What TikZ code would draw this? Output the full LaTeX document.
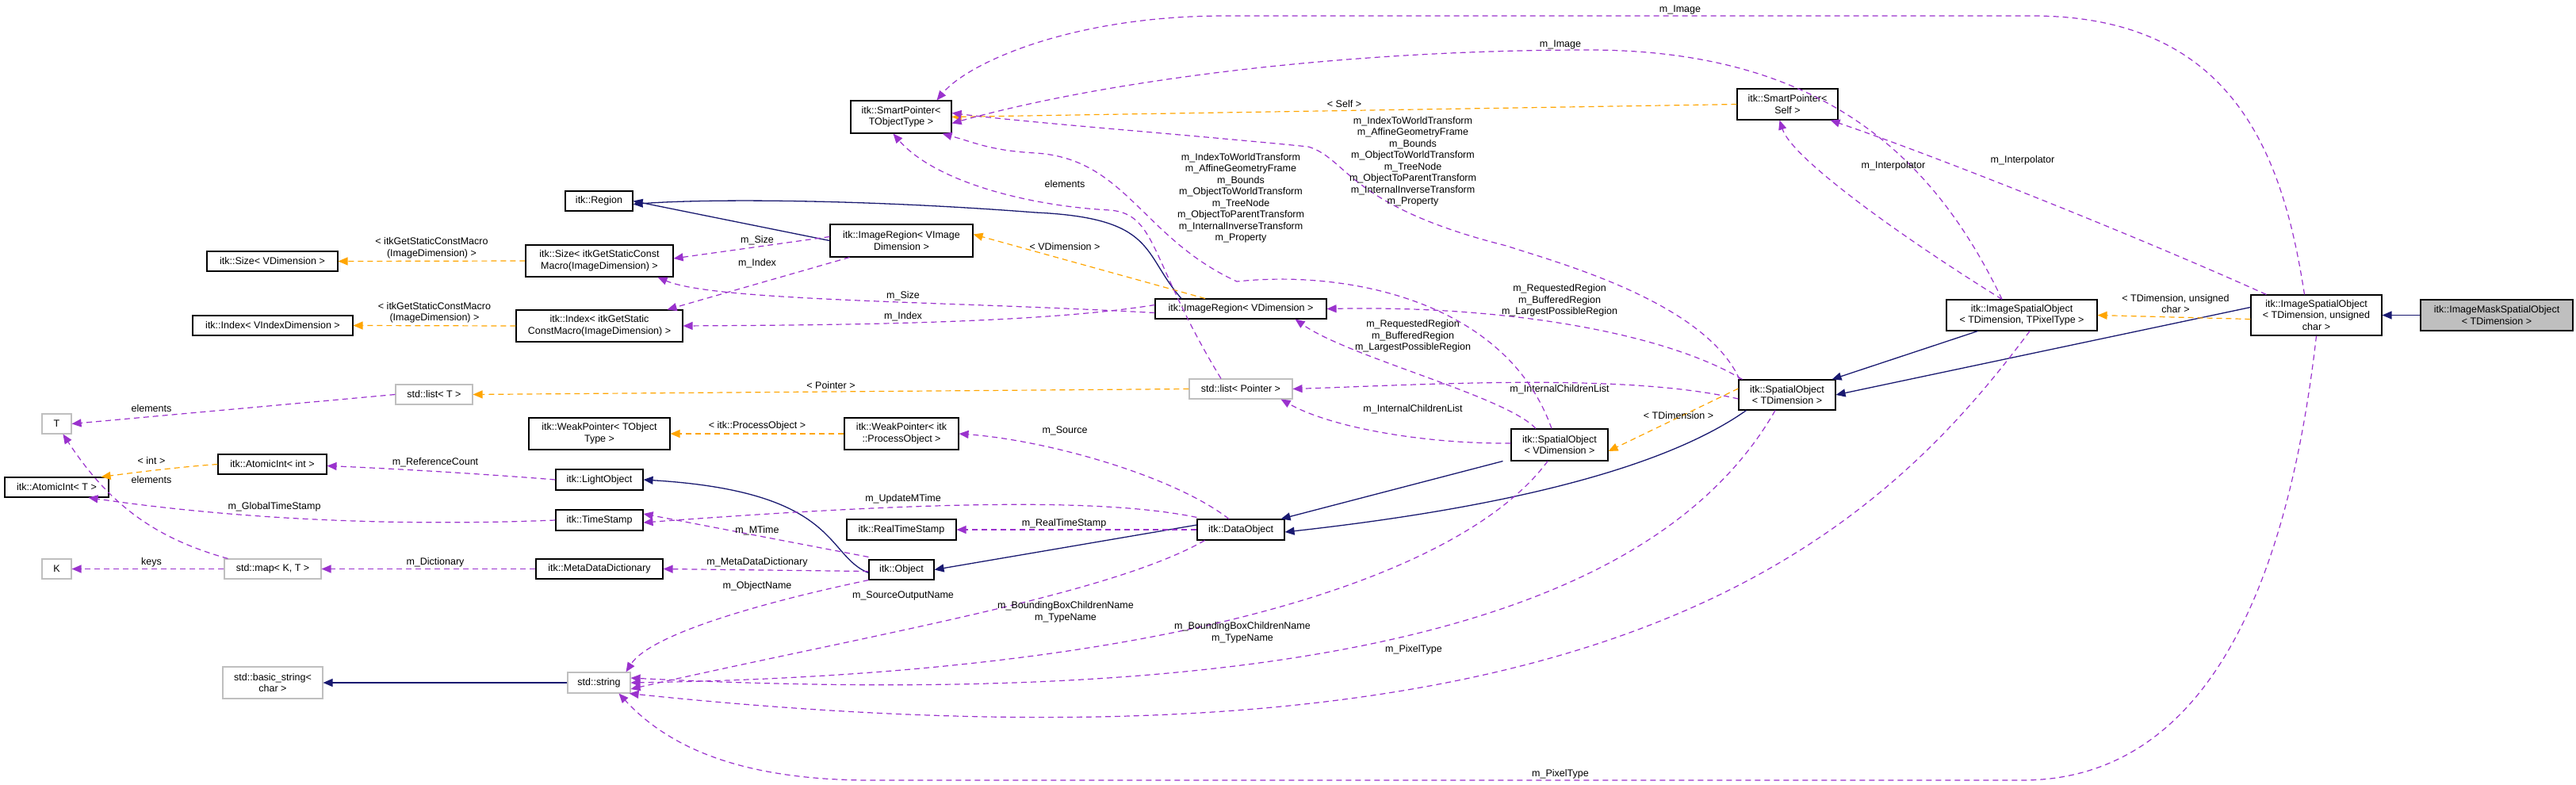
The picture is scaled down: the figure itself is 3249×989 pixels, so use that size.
\documentclass[tikz,border=0pt]{standalone}
\usepackage{fontspec}
\setmainfont{Liberation Sans}
\usetikzlibrary{arrows.meta}
\definecolor{inhc}{RGB}{25,25,112}
\definecolor{usec}{RGB}{154,50,205}
\definecolor{tplc}{RGB}{255,165,0}
\definecolor{grayb}{RGB}{191,191,191}
\tikzset{
 box/.style={draw=black,line width=1.1pt,fill=white,inner sep=2pt,align=center,font=\fontsize{12.5}{14.5}\selectfont},
 gbox/.style={box,draw=grayb},
 inh/.style={draw=inhc,line width=1.3pt,-{Triangle[length=12pt,width=10pt]}},
 use/.style={draw=usec,line width=1.2pt,dash pattern=on 7pt off 5pt,-{Triangle[length=12pt,width=10pt]}},
 tpl/.style={draw=tplc,line width=1.2pt,dash pattern=on 7pt off 5pt,-{Triangle[length=12pt,width=10pt]}},
 lab/.style={align=center,inner sep=0pt,font=\fontsize{12.5}{14.5}\selectfont}
}
\begin{document}
\begin{tikzpicture}[x=1pt,y=-1pt]
\useasboundingbox (0,0) rectangle (3249,989);
% nodes
\node[box,minimum width=85,minimum height=25] (region) at (755.5,253.5) {itk::Region};
\node[box,minimum width=186,minimum height=40] (sizeM) at (756,329) {itk::Size\textless{} itkGetStaticConst\\Macro(ImageDimension) \textgreater};
\node[box,minimum width=165,minimum height=25] (sizeV) at (343.5,329.5) {itk::Size\textless{} VDimension \textgreater};
\node[box,minimum width=210,minimum height=40] (indexM) at (756,411) {itk::Index\textless{} itkGetStatic\\ConstMacro(ImageDimension) \textgreater};
\node[box,minimum width=202,minimum height=25] (indexV) at (344,410.5) {itk::Index\textless{} VIndexDimension \textgreater};
\node[gbox,minimum width=97,minimum height=25] (listT) at (547.5,497.5) {std::list\textless{} T \textgreater};
\node[gbox,minimum width=37,minimum height=25] (T) at (71.5,534.5) {T};
\node[box,minimum width=178,minimum height=40] (weakT) at (756,547) {itk::WeakPointer\textless{} TObject\\Type \textgreater};
\node[box,minimum width=137,minimum height=25] (atomicI) at (343.5,585.5) {itk::AtomicInt\textless{} int \textgreater};
\node[box,minimum width=131,minimum height=25] (atomicT) at (71.5,614.5) {itk::AtomicInt\textless{} T \textgreater};
\node[box,minimum width=110,minimum height=26] (light) at (756,605) {itk::LightObject};
\node[box,minimum width=110,minimum height=26] (time) at (756,656) {itk::TimeStamp};
\node[gbox,minimum width=37,minimum height=25] (K) at (71.5,717.5) {K};
\node[gbox,minimum width=122,minimum height=25] (map) at (344,717.5) {std::map\textless{} K, T \textgreater};
\node[box,minimum width=160,minimum height=25] (meta) at (756,717.5) {itk::MetaDataDictionary};
\node[gbox,minimum width=126,minimum height=40] (basic) at (344,861) {std::basic\_string\textless\\char \textgreater};
\node[gbox,minimum width=79,minimum height=26] (string) at (755.5,861) {std::string};
\node[box,minimum width=127,minimum height=41] (spTO) at (1136.5,147.5) {itk::SmartPointer\textless\\TObjectType \textgreater};
\node[box,minimum width=180,minimum height=41] (imgRegVI) at (1137,303.5) {itk::ImageRegion\textless{} VImage\\Dimension \textgreater};
\node[box,minimum width=216,minimum height=25] (imgRegV) at (1565,389.5) {itk::ImageRegion\textless{} VDimension \textgreater};
\node[gbox,minimum width=130,minimum height=25] (listP) at (1565,490.5) {std::list\textless{} Pointer \textgreater};
\node[box,minimum width=144,minimum height=40] (weakP) at (1137,547) {itk::WeakPointer\textless{} itk\\::ProcessObject \textgreater};
\node[box,minimum width=138,minimum height=26] (realTS) at (1137,668) {itk::RealTimeStamp};
\node[box,minimum width=82,minimum height=25] (object) at (1137,718.5) {itk::Object};
\node[box,minimum width=110,minimum height=26] (dataObj) at (1565,668) {itk::DataObject};
\node[box,minimum width=122,minimum height=40] (soV) at (1967,561) {itk::SpatialObject\\\textless{} VDimension \textgreater};
\node[box,minimum width=127,minimum height=39] (spSelf) at (2254.5,131.5) {itk::SmartPointer\textless\\Self \textgreater};
\node[box,minimum width=122,minimum height=38] (soT) at (2254,498) {itk::SpatialObject\\\textless{} TDimension \textgreater};
\node[box,minimum width=190,minimum height=39] (isoP) at (2550,397.5) {itk::ImageSpatialObject\\\textless{} TDimension, TPixelType \textgreater};
\node[box,minimum width=165,minimum height=51] (isoU) at (2921.5,397.5) {itk::ImageSpatialObject\\\textless{} TDimension, unsigned\\char \textgreater};
\node[box,fill=grayb,minimum width=192,minimum height=39] (mask) at (3149,397.5) {itk::ImageMaskSpatialObject\\\textless{} TDimension \textgreater};
% inheritance
\draw[inh] (imgRegVI.west) -- (region.east);
\draw[inh] ([xshift=-75]imgRegV.north) .. controls (1440,320) and (1460,275) .. (1306,268) .. controls (1100,252) and (900,250) .. ([yshift=-4]region.east);
\draw[inh] ([yshift=-4]object.west) .. controls (1040,700) and (1060,620) .. (light.east);
\draw[inh] ([yshift=6]dataObj.west) -- (object.east);
\draw[inh] ([xshift=-10]soV.south west) -- ([xshift=-5]dataObj.north east);
\draw[inh] ([xshift=10]soT.south west) .. controls (2100,590) and (1900,640) .. ([yshift=-3]dataObj.east);
\draw[inh] ([xshift=40]isoP.south west) -- ([xshift=-5]soT.north east);
\draw[inh] ([yshift=10]isoU.west) -- (soT.east);
\draw[inh] (mask.west) -- (isoU.east);
\draw[inh] (string.west) -- (basic.east);
% templates
\draw[tpl] (sizeM.west) -- node[lab,above=3pt]{\textless{} itkGetStaticConstMacro\\(ImageDimension) \textgreater} (sizeV.east);
\draw[tpl] (indexM.west) -- node[lab,above=3pt]{\textless{} itkGetStaticConstMacro\\(ImageDimension) \textgreater} (indexV.east);
\draw[tpl] (listP.west) -- node[lab,above=3pt]{\textless{} Pointer \textgreater} (listT.east);
\draw[tpl] (weakP.west) -- node[lab,above=3pt]{\textless{} itk::ProcessObject \textgreater} (weakT.east);
\draw[tpl] (atomicI.west) .. controls (240,588) and (200,592) .. ([xshift=-10]atomicT.north east);
\node[lab] at (191,581) {\textless{} int \textgreater};
\draw[tpl] (spSelf.west) -- node[lab,above=3pt]{\textless{} Self \textgreater} (spTO.east);
\draw[tpl] ([xshift=-45]imgRegV.north) -- ([yshift=8]imgRegVI.east);
\node[lab] at (1343,311) {\textless{} VDimension \textgreater};
\draw[tpl] ([yshift=8]soT.west) -- ([yshift=-8]soV.east);
\node[lab] at (2117,524) {\textless{} TDimension \textgreater};
\draw[tpl] ([yshift=-5]isoU.west) -- (isoP.east);
\node[lab] at (2744,383) {\textless{} TDimension, unsigned\\char \textgreater};
% uses
\draw[use] (listT.west) -- (T.east);
\node[lab] at (191,515) {elements};
\draw[use] ([xshift=5]map.north west) .. controls (200,680) and (140,640) .. ([xshift=8]T.south);
\node[lab] at (191,605) {elements};
\draw[use] (map.west) -- (K.east);
\node[lab] at (191,709) {keys};
\draw[use] (meta.west) -- (map.east);
\node[lab] at (549,709) {m\_Dictionary};
\draw[use] ([yshift=-2]object.west) -- (meta.east);
\node[lab] at (955,709) {m\_MetaDataDictionary};
\draw[use] ([yshift=3]object.north west) -- ([yshift=8]time.east);
\node[lab] at (955,669) {m\_MTime};
\draw[use] ([yshift=2]dataObj.north west) .. controls (1400,630) and (1200,630) .. ([yshift=-3]time.east);
\node[lab] at (1139,629) {m\_UpdateMTime};
\draw[use] (dataObj.west) -- (realTS.east);
\node[lab] at (1342,660) {m\_RealTimeStamp};
\draw[use] (time.west) .. controls (500,664) and (300,655) .. ([xshift=40]atomicT.south);
\node[lab] at (346,639) {m\_GlobalTimeStamp};
\draw[use] (light.west) .. controls (640,600) and (520,592) .. ([yshift=-2]atomicI.east);
\node[lab] at (549,583) {m\_ReferenceCount};
\draw[use] (object.south west) .. controls (960,760) and (820,800) .. ([xshift=-6]string.north east);
\node[lab] at (955,739) {m\_ObjectName};
\draw[use] ([xshift=10]dataObj.south west) .. controls (1400,750) and (1100,800) .. ([yshift=-8]string.east);
\node[lab] at (1139,751) {m\_SourceOutputName};
\draw[use] ([xshift=-15]soV.south) .. controls (1850,720) and (1500,850) .. ([yshift=0]string.east);
\node[lab] at (1344,772) {m\_BoundingBoxChildrenName\\m\_TypeName};
\draw[use] ([xshift=-15]soT.south) .. controls (2100,760) and (1700,900) .. ([yshift=6]string.east);
\node[lab] at (1567,798) {m\_BoundingBoxChildrenName\\m\_TypeName};
\draw[use] ([xshift=10]isoP.south) .. controls (2350,700) and (2000,1000) .. ([xshift=-2]string.south east);
\node[lab] at (1783,819) {m\_PixelType};
\draw[use] (isoU.south) .. controls (2890,700) and (2800,984) .. (2550,984) -- (1100,984) .. controls (950,984) and (850,950) .. ([xshift=25]string.south);
\node[lab] at (1968,976) {m\_PixelType};
\draw[use] ([xshift=-15]dataObj.north) .. controls (1480,600) and (1320,555) .. (weakP.east);
\node[lab] at (1343,543) {m\_Source};
\draw[use] ([yshift=2]soV.west) .. controls (1800,560) and (1680,540) .. ([xshift=-15]listP.south east);
\node[lab] at (1782,516) {m\_InternalChildrenList};
\draw[use] ([yshift=-5]soT.west) .. controls (2050,470) and (1800,485) .. (listP.east);
\node[lab] at (1967,491) {m\_InternalChildrenList};
\draw[use] ([xshift=-30]soV.north) .. controls (1900,500) and (1700,450) .. ([xshift=-40]imgRegV.south east);
\node[lab] at (1782,424) {m\_RequestedRegion\\m\_BufferedRegion\\m\_LargestPossibleRegion};
\draw[use] ([xshift=5]soT.north west) .. controls (2100,420) and (1900,385) .. (imgRegV.east);
\node[lab] at (1967,379) {m\_RequestedRegion\\m\_BufferedRegion\\m\_LargestPossibleRegion};
\draw[use] ([yshift=-5]imgRegV.west) .. controls (1200,380) and (900,380) .. ([xshift=-20]sizeM.south east);
\node[lab] at (1139,373) {m\_Size};
\draw[use] ([yshift=5]imgRegV.west) .. controls (1300,410) and (1000,410) .. (indexM.east);
\node[lab] at (1139,399) {m\_Index};
\draw[use] ([yshift=5]imgRegVI.west) -- ([yshift=3]sizeM.east);
\node[lab] at (955,303) {m\_Size};
\draw[use] ([xshift=25]imgRegVI.south west) -- ([xshift=-20]indexM.north east);
\node[lab] at (955,332) {m\_Index};
\draw[use] ([xshift=-25]listP.north) .. controls (1450,330) and (1460,270) .. (1400,265) .. controls (1300,260) and (1180,230) .. ([xshift=-10]spTO.south);
\node[lab] at (1343,232) {elements};
\draw[use] ([xshift=-10]soV.north) .. controls (1900,380) and (1700,340) .. (1560,355) .. controls (1440,300) and (1420,200) .. (1306,193) .. controls (1250,190) and (1230,180) .. ([xshift=-12]spTO.south east);
\node[lab] at (1565,250) {m\_IndexToWorldTransform\\m\_AffineGeometryFrame\\m\_Bounds\\m\_ObjectToWorldTransform\\m\_TreeNode\\m\_ObjectToParentTransform\\m\_InternalInverseTransform\\m\_Property};
\draw[use] ([xshift=-60]soT.north) .. controls (2150,380) and (1960,330) .. (1900,310) .. controls (1700,260) and (1700,200) .. (1650,185) .. controls (1500,170) and (1300,155) .. ([yshift=5]spTO.east);
\node[lab] at (1782,204) {m\_IndexToWorldTransform\\m\_AffineGeometryFrame\\m\_Bounds\\m\_ObjectToWorldTransform\\m\_TreeNode\\m\_ObjectToParentTransform\\m\_InternalInverseTransform\\m\_Property};
\draw[use] ([xshift=-25]isoP.north) .. controls (2440,200) and (2300,63) .. (2004,63) .. controls (1700,63) and (1400,100) .. ([yshift=-8]spTO.east);
\node[lab] at (1968,56) {m\_Image};
\draw[use] ([xshift=-15]isoU.north) .. controls (2880,200) and (2820,20) .. (2563,20) -- (1545,20) .. controls (1350,20) and (1220,80) .. ([xshift=45]spTO.north);
\node[lab] at (2119,12) {m\_Image};
\draw[use] ([xshift=-25]isoP.north) .. controls (2400,300) and (2260,200) .. ([xshift=-10]spSelf.south);
\node[lab] at (2388,209) {m\_Interpolator};
\draw[use] ([xshift=20]isoU.north west) .. controls (2700,300) and (2450,200) .. ([xshift=-10]spSelf.south east);
\node[lab] at (2551,202) {m\_Interpolator};
\end{tikzpicture}
\end{document}
